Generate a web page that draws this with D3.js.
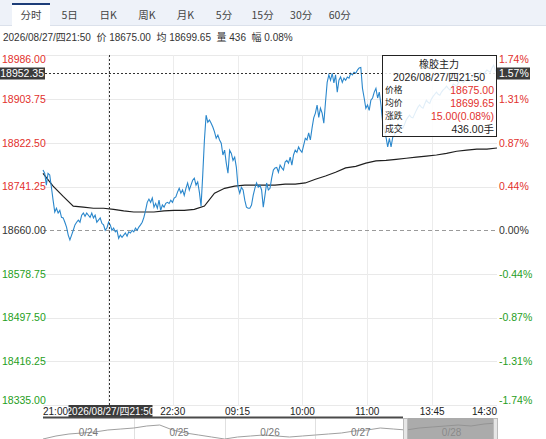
<!DOCTYPE html>
<html>
<head>
<meta charset="utf-8">
<title>橡胶主力 分时</title>
<script src="https://cdn.jsdelivr.net/npm/d3@7"></script>
<style>
  body { margin: 0; background: #fff; }
  svg text { font-family: Arial, "Liberation Sans", "Noto Sans CJK SC", sans-serif; }
  .cjk { font-family: "Noto Sans CJK SC", Arial, sans-serif !important; }
</style>
</head>
<body>
<div id="chart"></div>
<script>
// tabs + header
var tabs = ["分时", "5日", "日K", "周K", "月K", "5分", "15分", "30分", "60分"];
var infoTime = "2026/08/27/四21:50";
var infoLabels = ["价", "均", "量", "幅"];
var infoValues = ["18675.00", "18699.65", "436", "0.08%"];

// axes
var basePrice = 18660;
var priceTicks = [18986.00, 18903.75, 18822.50, 18741.25, 18660.00, 18578.75, 18497.50, 18416.25, 18335.00];
var pctTicks = ["1.74%", "1.31%", "0.87%", "0.44%", "0.00%", "-0.44%", "-0.87%", "-1.31%", "-1.74%"];
var timeLabels = ["21:00", "21:45", "22:30", "09:15", "10:00", "11:00", "13:45", "14:30"];
var dayLabels = ["0/24", "0/25", "0/26", "0/27", "0/28"];

// minute prices (one point every ~1.7px of the picture)
var price = [
  18772,18766,18744,18766,18763,18740,18716,18694,18701,18692,
  18697,18684,18683,18675,18666,18651,18642,18651,18660,18670,
  18675,18679,18675,18688,18692,18686,18692,18688,18684,18692,
  18683,18688,18675,18679,18683,18673,18670,18660,18664,18675,
  18670,18660,18664,18657,18660,18645,18651,18647,18651,18655,
  18649,18657,18655,18660,18657,18664,18660,18666,18670,18675,
  18684,18697,18712,18718,18712,18720,18703,18710,18701,18716,
  18697,
  18707,18703,18710,18712,18710,18716,18712,18720,18722,18731,
  18738,18729,18735,18725,18738,18748,18735,18744,18753,18757,
  18744,18750,18731,18705,18763,18828,18874,18861,18865,18859,
  18852,18843,18831,18837,18828,18822,18800,18809,18785,18766,
  18809,18803,18790,18796,18777,18740,18729,18740,18735,18716,
  18703,18701,
  18701,18707,18725,18738,18748,18740,18744,18735,18703,18725,
  18748,18735,18738,18757,18772,18776,18777,18768,18781,18776,
  18772,18787,18790,18785,18796,18781,18800,18809,18805,18815,
  18809,18805,18818,18831,18828,18841,18828,18850,18869,18878,
  18893,18870,18887,18878,18859,18898,18935,18949,18939,18952,
  18934,18949,18917,18939,18945,18935,18943,18939,18945,18943,
  18952,18949,18954,18952,18958,18962,18963,18924,18906,18887,
  18893,18883,18902,18906,18917,18924,18906,18917,18893,18861,
  18846,18833,18815,18831,18815,18833,18837,
  18843,18850,18856,18852,18850,18857,18865,18870,18874,18870,
  18869,18876,18883,18889,18893,18889,18887,18895,18902,18898,
  18896,18904,18909,18913,18917,18913,18911,18917,18921,18924,
  18928,18924,18921,18926,18932,18930,18928,18934,18939,18937,
  18935,18939,18943,18941,18939,18945,18949,18947,18945,18950,
  18954,18952,18950,18954,18958,18956,18954,18962,18967,18958,
  18952.35
];

// average price, one value every avgStep points
var avgStep = 6;
var avgPrice = [
  18766,18742,18723,18705,18703,18701,18701,18699,18696,18694,
  18694,18694,18696,18697,18697,18699,18705,18729,18738,18742,
  18744,18744,18744,18744,18746,18746,18748,18755,18761,18768,
  18776,18779,18785,18789,18790,18792,18794,18796,18798,18800,
  18803,18807,18809,18811,18811,18813
];

// 5-day navigator
var navPrice = [
  18335,18440,18510,18545,18580,18650,18685,18720,18790,18825,
  18650,18545,18475,18405,18335,18405,18440,18475,18440,18405,
  18440,18475,18510,18545,18615,18650,18720,18685,18650,18720,
  18755,18790,18825,18790,18860,18895
];

// crosshair / tooltip
var crossIdx = 39;
var lastPrice = 18952.35, lastPct = "1.57%";
var tipTitle = "橡胶主力";
var tipNames = ["价格", "均价", "涨跌", "成交"];
var tipValues = ["18675.00", "18699.65", "15.00(0.08%)", "436.00手"];

var W = 546, H = 439;
var L = 43, R = 497, T = 55, B = 405;
var RED = "#e2302c", GREEN = "#1f9e22", DARK = "#3b3b3b";

var svg = d3.select("#chart").append("svg").attr("width", W).attr("height", H);

// ---- tab bar
svg.append("rect").attr("x", 0).attr("y", 0).attr("width", W).attr("height", 25).attr("fill", "#eef2f9");
svg.append("line").attr("x1", 0).attr("x2", W).attr("y1", 25.5).attr("y2", 25.5).attr("stroke", "#dbe1eb");
svg.append("rect").attr("x", 12).attr("y", 3).attr("width", 38).attr("height", 23).attr("fill", "#fff");
svg.append("line").attr("x1", 12).attr("x2", 50).attr("y1", 4).attr("y2", 4).attr("stroke", "#1d3d78").attr("stroke-width", 2);
svg.selectAll(".tab").data(tabs).enter().append("text")
  .attr("class", "cjk")
  .attr("x", function(d, i) { return 31 + i * 38.6; })
  .attr("y", 15).attr("dy", "0.35em")
  .attr("text-anchor", "middle").attr("font-size", 10.5).attr("fill", "#444")
  .text(function(d) { return d; });

// info line
var info = infoTime;
infoLabels.forEach(function(l, i) { info += "  " + l + " " + infoValues[i]; });
svg.append("text").attr("x", 3).attr("y", 37).attr("dy", "0.35em")
  .attr("font-size", 10).attr("fill", "#333").style("white-space", "pre").text(info);

// ---- scales
var x = d3.scaleLinear().domain([0, price.length - 1]).range([L, R]);
var y = d3.scaleLinear().domain([priceTicks[priceTicks.length - 1], priceTicks[0]]).range([B, T]);
var xt = d3.scalePoint().domain(timeLabels).range([L, R]);

function tickColor(v) { return v > basePrice ? RED : (v < basePrice ? GREEN : "#333"); }
function labelY(v, i) {
  if (i == 0) return y(v) + 4;
  if (i == priceTicks.length - 1) return y(v) - 5;
  return y(v);
}

// grid
svg.append("g").selectAll("line").data(priceTicks.filter(function(d) { return d != basePrice; }))
  .enter().append("line")
  .attr("x1", L).attr("x2", R)
  .attr("y1", function(d) { return Math.round(y(d)) + 0.5; })
  .attr("y2", function(d) { return Math.round(y(d)) + 0.5; })
  .attr("stroke", "#e9e9e9");
svg.append("g").selectAll("line").data(timeLabels.slice(1, -1))
  .enter().append("line")
  .attr("x1", function(d) { return Math.round(xt(d)) + 0.5; })
  .attr("x2", function(d) { return Math.round(xt(d)) + 0.5; })
  .attr("y1", T).attr("y2", B)
  .attr("stroke", "#ececec");
svg.append("line").attr("x1", L).attr("x2", R)
  .attr("y1", Math.round(y(basePrice)) + 0.5).attr("y2", Math.round(y(basePrice)) + 0.5)
  .attr("stroke", "#9a9a9a").attr("stroke-dasharray", "4,3");

// price axis labels
svg.append("g").selectAll("text").data(priceTicks).enter().append("text")
  .attr("x", 2).attr("y", labelY).attr("dy", "0.35em")
  .attr("font-size", 10.5).attr("fill", tickColor)
  .text(function(d) { return d.toFixed(2); });
svg.append("g").selectAll("text").data(priceTicks).enter().append("text")
  .attr("x", 499).attr("y", labelY).attr("dy", "0.35em")
  .attr("font-size", 10.5).attr("fill", tickColor)
  .text(function(d, i) { return pctTicks[i]; });

// lines
var priceLine = d3.line().x(function(d, i) { return x(i); }).y(function(d) { return y(d); });
var avgLine = d3.line().x(function(d, i) { return x(i * avgStep); }).y(function(d) { return y(d); });
svg.append("path").datum(avgPrice).attr("d", avgLine)
  .attr("fill", "none").attr("stroke", "#1f1f1f").attr("stroke-width", 1.2);
svg.append("path").datum(price).attr("d", priceLine)
  .attr("fill", "none").attr("stroke", "#2a87cc").attr("stroke-width", 1.1);

// last price line + labels
var ly = Math.round(y(lastPrice)) + 0.5;
svg.append("line").attr("x1", 45).attr("x2", R).attr("y1", ly).attr("y2", ly)
  .attr("stroke", "#333").attr("stroke-dasharray", "2,2");
svg.append("rect").attr("x", 0).attr("y", ly - 6).attr("width", 45).attr("height", 12).attr("fill", DARK);
svg.append("text").attr("x", 44).attr("y", ly).attr("dy", "0.35em").attr("text-anchor", "end")
  .attr("font-size", 10.5).attr("fill", "#fff").text(lastPrice.toFixed(2));
svg.append("rect").attr("x", R).attr("y", ly - 6).attr("width", 33).attr("height", 12).attr("fill", DARK);
svg.append("text").attr("x", R + 2).attr("y", ly).attr("dy", "0.35em")
  .attr("font-size", 10.5).attr("fill", "#fff").text(lastPct);

// crosshair
var cx = Math.round(x(crossIdx)) + 0.5;
svg.append("line").attr("x1", cx).attr("x2", cx).attr("y1", T).attr("y2", B)
  .attr("stroke", "#333").attr("stroke-dasharray", "2,2");

// tooltip
var tx = 382, tw = 114;
svg.append("rect").attr("x", tx + 0.5).attr("y", T + 0.5).attr("width", tw).attr("height", 81)
  .attr("fill", "#fff").attr("fill-opacity", 0.86).attr("stroke", "#222");
svg.append("text").attr("class", "cjk").attr("x", tx + tw / 2).attr("y", 64).attr("dy", "0.35em")
  .attr("text-anchor", "middle").attr("font-size", 10).attr("fill", "#222").text(tipTitle);
svg.append("text").attr("x", tx + tw / 2).attr("y", 77).attr("dy", "0.35em")
  .attr("text-anchor", "middle").attr("font-size", 10.5).attr("fill", "#222").text(infoTime);
var rowY = [90, 103, 116, 129];
svg.append("g").selectAll("text").data(tipNames).enter().append("text")
  .attr("class", "cjk").attr("x", tx + 3).attr("y", function(d, i) { return rowY[i]; }).attr("dy", "0.35em")
  .attr("font-size", 8.8).attr("fill", "#222").text(function(d) { return d; });
svg.append("g").selectAll("text").data(tipValues).enter().append("text")
  .attr("x", tx + tw - 2).attr("y", function(d, i) { return rowY[i]; }).attr("dy", "0.35em")
  .attr("text-anchor", "end").attr("font-size", 10.5)
  .attr("fill", function(d, i) { return i < 3 ? RED : "#222"; })
  .text(function(d) { return d; });

// ---- time axis (the label under the crosshair is hidden by the date box)
svg.append("g").selectAll("text")
  .data(timeLabels.filter(function(d) { return Math.abs(xt(d) - cx) > 30; }))
  .enter().append("text")
  .attr("x", function(d) { return xt(d); }).attr("y", 411).attr("dy", "0.35em")
  .attr("text-anchor", function(d) {
    var i = timeLabels.indexOf(d);
    return i == 0 ? "start" : (i == timeLabels.length - 1 ? "end" : "middle");
  })
  .attr("font-size", 10).attr("fill", "#222").text(function(d) { return d; });
svg.append("rect").attr("x", cx - 41).attr("y", 405).attr("width", 84).attr("height", 12).attr("fill", DARK);
svg.append("text").attr("x", cx + 1).attr("y", 411).attr("dy", "0.35em").attr("text-anchor", "middle")
  .attr("font-size", 10).attr("fill", "#fff").text(infoTime);

// ---- navigator
var selX0 = 403;
var nx = d3.scaleLinear().domain([0, navPrice.length - 1]).range([L, R]);
var ny = d3.scaleLinear().domain([18300, 19000]).range([440, 420]);
var dayW = (R - L) / dayLabels.length;
svg.append("g").selectAll("line").data(dayLabels.slice(1)).enter().append("line")
  .attr("x1", function(d, i) { return Math.round(L + (i + 1) * dayW) + 0.5; })
  .attr("x2", function(d, i) { return Math.round(L + (i + 1) * dayW) + 0.5; })
  .attr("y1", 418).attr("y2", H).attr("stroke", "#e0e0e0");
svg.append("path").datum(navPrice)
  .attr("d", d3.line().x(function(d, i) { return nx(i); }).y(function(d) { return ny(d); }))
  .attr("fill", "none").attr("stroke", "#a0a0a0").attr("stroke-width", 1);
svg.append("g").selectAll("text").data(dayLabels).enter().append("text")
  .attr("x", function(d, i) { return L + (i + 0.5) * dayW; }).attr("y", 432).attr("dy", "0.35em")
  .attr("text-anchor", "middle").attr("font-size", 10).attr("fill", "#777").text(function(d) { return d; });
svg.append("rect").attr("x", selX0).attr("y", 418).attr("width", R - selX0).attr("height", H - 418)
  .attr("fill", "#8f8f8f").attr("fill-opacity", 0.75);
svg.append("line").attr("x1", L).attr("x2", selX0).attr("y1", 417.5).attr("y2", 417.5)
  .attr("stroke", "#4a4a4a").attr("stroke-width", 2);
[selX0, R - 4].forEach(function(hx) {
  svg.append("rect").attr("x", hx + 0.5).attr("y", 418.5).attr("width", 4).attr("height", H - 418)
    .attr("fill", "#e6e6e6").attr("stroke", "#bbb");
});
</script>
</body>
</html>
